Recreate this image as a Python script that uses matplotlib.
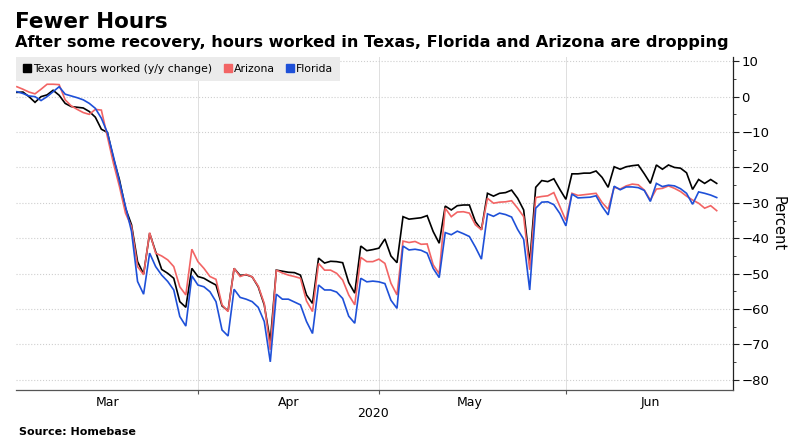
import numpy as np
import pandas as pd
import matplotlib
matplotlib.use('Agg')
import matplotlib.pyplot as plt
import matplotlib.dates as mdates
from matplotlib.lines import Line2D

# daily y/y change in hours worked (%), Mar 2 .. Jun 26, 2020
dates = pd.date_range('2020-03-02', periods=117, freq='D')

texas = [
    1.2, 1.3, 0.0, -1.6, 0.0, 0.5, 1.8, 0.4, -1.9, -2.8,
    -3.0, -3.2, -4.2, -5.8, -9.2, -10.1, -17.4, -23.5, -31.5, -36.2,
    -46.6, -50.1, -38.6, -43.8, -48.8, -49.9, -51.3, -57.9, -59.5, -48.5,
    -50.8, -51.3, -52.3, -53.2, -59.1, -60.5, -48.5, -50.5, -50.3, -50.9,
    -53.7, -58.8, -69.2, -49.0, -49.3, -49.6, -49.7, -50.4, -56.0, -58.4,
    -45.6, -47.0, -46.5, -46.6, -46.9, -52.5, -55.5, -42.2, -43.5, -43.2,
    -42.8, -40.2, -45.0, -46.9, -33.9, -34.6, -34.4, -34.2, -33.6, -38.1,
    -41.4, -30.9, -32.0, -30.8, -30.6, -30.6, -35.3, -37.6, -27.3, -28.1,
    -27.3, -27.1, -26.4, -28.7, -32.0, -47.1, -25.6, -23.7, -24.0, -23.2,
    -26.2, -29.0, -21.8, -21.8, -21.6, -21.6, -21.0, -22.8, -25.6, -19.8,
    -20.5, -19.8, -19.5, -19.3, -21.8, -24.5, -19.3, -20.5, -19.3, -20.0,
    -20.2, -21.5, -26.2, -23.4, -24.5, -23.4, -24.5,
]

arizona = [
    2.8, 2.1, 1.3, 0.8, 2.1, 3.5, 3.5, 3.4, -0.9, -2.6,
    -3.6, -4.5, -5.0, -3.6, -3.8, -11.3, -18.8, -25.4, -32.9, -36.7,
    -48.0, -50.3, -38.4, -44.2, -45.0, -46.1, -48.0, -53.7, -56.0, -43.1,
    -46.6, -48.5, -50.8, -51.6, -58.8, -60.7, -48.5, -50.8, -50.2, -50.9,
    -53.5, -58.4, -71.5, -49.0, -49.8, -50.4, -50.8, -51.3, -57.7, -60.7,
    -47.1, -49.0, -49.0, -49.9, -51.8, -56.0, -58.8, -45.4, -46.6, -46.6,
    -45.9, -47.1, -52.7, -56.0, -40.8, -41.2, -40.9, -41.7, -41.6, -47.5,
    -50.0, -31.5, -33.9, -32.6, -32.5, -32.9, -36.2, -37.6, -28.7, -30.1,
    -29.8, -29.7, -29.4, -31.5, -33.9, -48.9, -28.5, -28.2, -28.0, -27.1,
    -31.0, -35.0, -27.3, -27.9, -27.7, -27.5, -27.3, -29.9, -31.8, -25.6,
    -26.1, -25.2, -24.7, -24.9, -26.4, -29.2, -26.1, -25.9, -25.2, -25.9,
    -26.8, -28.1, -29.2, -30.1, -31.5, -30.8, -32.2,
]

florida = [
    1.4, 0.9, 0.2, 0.0, -1.1, 0.0, 1.4, 2.8, 0.7, 0.2,
    -0.3, -0.9, -1.9, -3.3, -6.1, -10.2, -16.9, -24.0, -31.0, -38.1,
    -52.2, -55.8, -44.2, -48.0, -50.4, -52.2, -54.6, -62.1, -64.8, -50.6,
    -53.2, -53.7, -55.1, -57.9, -65.9, -67.6, -54.4, -56.7, -57.2, -57.9,
    -59.5, -63.5, -74.9, -55.8, -57.2, -57.2, -58.0, -58.8, -63.5, -66.9,
    -53.2, -54.6, -54.6, -55.2, -57.0, -62.0, -64.0, -51.3, -52.3, -52.1,
    -52.3, -52.8, -57.5, -59.8, -42.2, -43.3, -43.1, -43.4, -44.2, -48.5,
    -51.1, -38.4, -39.0, -38.0, -38.7, -39.5, -42.5, -45.9, -33.1, -33.8,
    -32.9, -33.3, -34.0, -37.5, -40.3, -54.6, -31.5, -29.8, -29.7, -30.5,
    -33.0, -36.5, -27.5, -28.6, -28.5, -28.4, -28.0, -31.0, -33.4, -25.3,
    -26.3, -25.5, -25.5, -25.7, -26.5, -29.6, -24.5, -25.4, -25.0, -25.2,
    -26.0, -27.3, -30.4, -26.9, -27.3, -27.8, -28.5,
]

series_names = ['Texas hours worked (y/y change)', 'Arizona', 'Florida']
colors = ['#000000', '#f26464', '#1e50d8']
month_label_days = ['2020-03-17', '2020-04-16', '2020-05-16', '2020-06-15']

fig = plt.figure(figsize=(8, 4.46), dpi=100)
ax = fig.add_axes([0.02, 0.1256, 0.89625, 0.7466])

for vals, c in zip([texas, arizona, florida], colors):
    ax.plot(dates, vals, color=c, lw=1.2, solid_joinstyle='miter')

base = mdates.date2num(pd.Timestamp('2020-03-01'))
ax.set_xlim(base + 0.85, base + 119.7)
ax.set_ylim(-82.85, 11.2)

# x axis: ticks at month starts, labels mid-month
ax.xaxis.set_major_locator(mdates.MonthLocator())
ax.xaxis.set_major_formatter(plt.NullFormatter())
ax.xaxis.set_minor_locator(plt.FixedLocator(mdates.date2num(pd.to_datetime(month_label_days))))
ax.xaxis.set_minor_formatter(mdates.DateFormatter('%b'))
ax.tick_params(axis='x', which='major', length=3, color='#555555', direction='out')
ax.tick_params(axis='x', which='minor', length=0, labelsize=9, pad=4)
ax.text(base + 60, -0.072, '2020', transform=ax.get_xaxis_transform(),
        ha='center', va='center', fontsize=9)

# y axis on the right
ax.yaxis.tick_right()
ax.yaxis.set_label_position('right')
ax.set_yticks(np.arange(-80, 11, 10))
ax.set_yticks(np.arange(-80, 11, 5), minor=True)
ax.tick_params(axis='y', which='major', length=4, pad=2, labelsize=9.5, color='#222222')
ax.tick_params(axis='y', which='minor', length=2, color='#222222')
ax.set_ylabel('Percent', rotation=270, fontsize=10.5, labelpad=12)

ax.grid(axis='y', which='major', color='#cfcfcf', ls=':', lw=0.8)
ax.grid(axis='x', which='major', color='#dedede', ls='-', lw=0.7)
ax.set_axisbelow(True)

for s in ['left', 'top']:
    ax.spines[s].set_visible(False)
ax.spines['bottom'].set_color('#555555')
ax.spines['right'].set_color('#222222')
ax.spines['bottom'].set_linewidth(0.9)
ax.spines['right'].set_linewidth(0.9)

handles = [Line2D([], [], marker='s', ls='', color=c, markersize=6) for c in colors]
leg = ax.legend(handles, series_names, loc='upper left', bbox_to_anchor=(0, 1),
                borderaxespad=0, ncol=3, fontsize=7.8, frameon=True, fancybox=False,
                facecolor='#ebebeb', edgecolor='none', framealpha=1,
                handlelength=0.7, handletextpad=0.2, columnspacing=1.1, borderpad=0.65)

fig.text(0.019, 1 - 27.5 / 446, 'Fewer Hours', fontsize=15.5, fontweight='bold', va='baseline')
fig.text(0.019, 1 - 46.7 / 446,
         'After some recovery, hours worked in Texas, Florida and Arizona are dropping',
         fontsize=11.6, fontweight='bold', va='baseline')
fig.text(0.024, 1 - 435 / 446, 'Source: Homebase', fontsize=8, fontweight='bold', va='baseline')

fig.savefig('out.png', dpi=100)
